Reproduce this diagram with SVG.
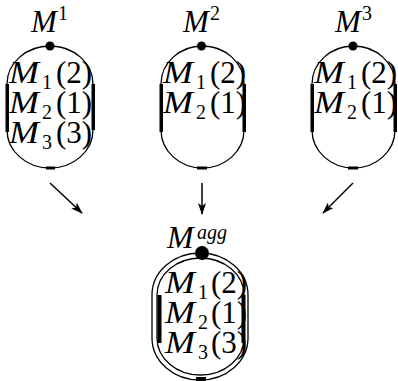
<svg xmlns="http://www.w3.org/2000/svg" width="398" height="381" viewBox="0 0 398 381">
<style>
.o{fill:none;stroke:#000;stroke-width:1.3}
.b{fill:#000}
.t{font-family:"Liberation Serif",serif;font-style:italic;font-size:31px;fill:#000}
.r{font-family:"Liberation Serif",serif;font-size:31px;fill:#000}
.i{font-style:italic}
.s{font-size:20px;font-style:normal}
.u{font-style:normal}
.a{stroke:#000;stroke-width:1.5;fill:none}
</style>
<defs>
<marker id="ah" viewBox="0 0 12 8" refX="11" refY="4" markerWidth="12" markerHeight="8" markerUnits="userSpaceOnUse" orient="auto">
<path d="M0,0 L12,4 L0,8 L3,4 Z" fill="#000"/>
</marker>
</defs>
<g id="connectors">
<line class="a" x1="50" y1="183" x2="82" y2="213" marker-end="url(#ah)"/>
<line class="a" x1="202" y1="183" x2="202" y2="214" marker-end="url(#ah)"/>
<line class="a" x1="353" y1="183" x2="323" y2="213" marker-end="url(#ah)"/>
</g>
<g id="M1">
<path class="o" d="M7,84 A43,38 0 0 1 93,84 L93,130 A43,38 0 0 1 7,130 Z"/>
<rect class="b" x="5.5" y="84" width="3.5" height="48"/>
<rect class="b" x="91.5" y="84" width="3.5" height="46"/>
<rect class="b" x="46" y="166.5" width="9" height="3"/>
<circle class="b" cx="50" cy="46" r="4.5"/>
<text class="t" x="31" y="32">M<tspan class="s" x="58" y="20">1</tspan></text>
<text class="r" y="83"><tspan class="i" x="9" textLength="30" lengthAdjust="spacingAndGlyphs">M</tspan><tspan class="s" x="42" dy="6">1</tspan><tspan x="56" dy="-6">(2)</tspan></text>
<text class="r" y="113"><tspan class="i" x="9" textLength="30" lengthAdjust="spacingAndGlyphs">M</tspan><tspan class="s" x="42" dy="6">2</tspan><tspan x="56" dy="-6">(1)</tspan></text>
<text class="r" y="143"><tspan class="i" x="9" textLength="30" lengthAdjust="spacingAndGlyphs">M</tspan><tspan class="s" x="42" dy="6">3</tspan><tspan x="56" dy="-6">(3)</tspan></text>
</g>
<g id="M2">
<path class="o" d="M161,84 A41.5,38 0 0 1 244,84 L244,130 A41.5,38 0 0 1 161,130 Z"/>
<rect class="b" x="159.5" y="84" width="3.5" height="48"/>
<rect class="b" x="242.5" y="84" width="3.5" height="48"/>
<rect class="b" x="197" y="166.5" width="10" height="3"/>
<circle class="b" cx="201.5" cy="46" r="4.5"/>
<text class="t" x="183" y="32">M<tspan class="s" x="210" y="20">2</tspan></text>
<text class="r" y="83"><tspan class="i" x="163" textLength="30" lengthAdjust="spacingAndGlyphs">M</tspan><tspan class="s" x="196" dy="6">1</tspan><tspan x="210" dy="-6">(2)</tspan></text>
<text class="r" y="113"><tspan class="i" x="163" textLength="30" lengthAdjust="spacingAndGlyphs">M</tspan><tspan class="s" x="196" dy="6">2</tspan><tspan x="210" dy="-6">(1)</tspan></text>
</g>
<g id="M3">
<path class="o" d="M312,84 A41.5,38 0 0 1 395,84 L395,130 A41.5,38 0 0 1 312,130 Z"/>
<rect class="b" x="310.5" y="84" width="3.5" height="48"/>
<rect class="b" x="393.5" y="84" width="3.5" height="48"/>
<rect class="b" x="348" y="166.5" width="10" height="3"/>
<circle class="b" cx="353" cy="46" r="4.5"/>
<text class="t" x="335" y="32">M<tspan class="s" x="362" y="20">3</tspan></text>
<text class="r" y="83"><tspan class="i" x="314" textLength="30" lengthAdjust="spacingAndGlyphs">M</tspan><tspan class="s" x="347" dy="6">1</tspan><tspan x="361" dy="-6">(2)</tspan></text>
<text class="r" y="113"><tspan class="i" x="314" textLength="30" lengthAdjust="spacingAndGlyphs">M</tspan><tspan class="s" x="347" dy="6">2</tspan><tspan x="361" dy="-6">(1)</tspan></text>
</g>
<g id="Magg">
<path class="o" d="M152,295 A48,42 0 0 1 248,295 L248,338 A48,42 0 0 1 152,338 Z"/>
<path class="o" d="M157,295 A43.5,37 0 0 1 244,295 L244,338 A43.5,37 0 0 1 157,338 Z"/>
<rect class="b" x="157.5" y="295" width="4" height="48"/>
<rect class="b" x="241.5" y="295" width="4" height="48"/>
<rect class="b" x="196" y="377" width="10" height="4"/>
<circle class="b" cx="202" cy="253" r="7"/>
<text class="t" x="167" y="248" style="font-size:32px">M<tspan x="197" y="239" style="font-size:20px">agg</tspan></text>
<text class="r" y="293"><tspan class="i" x="165" textLength="30" lengthAdjust="spacingAndGlyphs">M</tspan><tspan class="s" x="198" dy="6">1</tspan><tspan x="211" dy="-6">(2)</tspan></text>
<text class="r" y="323"><tspan class="i" x="165" textLength="30" lengthAdjust="spacingAndGlyphs">M</tspan><tspan class="s" x="198" dy="6">2</tspan><tspan x="211" dy="-6">(1)</tspan></text>
<text class="r" y="353"><tspan class="i" x="165" textLength="30" lengthAdjust="spacingAndGlyphs">M</tspan><tspan class="s" x="198" dy="6">3</tspan><tspan x="211" dy="-6">(3)</tspan></text>
</g>
</svg>
